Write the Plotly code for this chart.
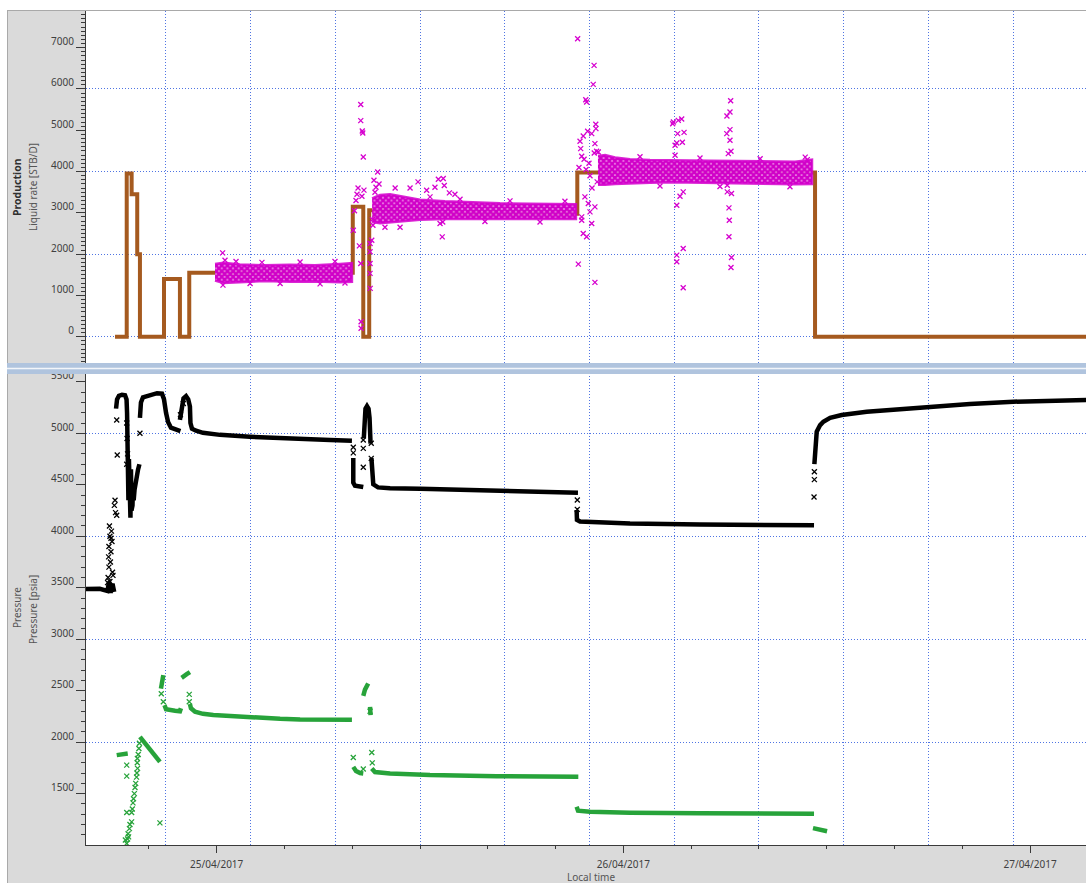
import pandas as pd
import plotly.graph_objects as go

BASE = pd.Timestamp("2017-04-25 00:00:00")  # hours below are relative to this instant

# ---------------- Production panel ----------------
# liquid rate history (step), hours / STB/D
rate_h = [-6.0, -5.31, -5.02, -4.69, -4.53, -3.11, -2.17, -1.62, 8.03, 8.65, 9.0, 12.78, 21.28, 35.31, 55.0]
rate_v = [0, 3950, 3450, 2000, 0, 1400, 0, 1550, 3150, 0, 3060, 2980, 3980, 0, 0]

# measured liquid rate: dense clouds (lower / upper envelopes)
band1_h = [-0.10, 0.40, 1.37, 2.85, 4.33, 5.80, 7.28, 7.98]
band1_lo = [1360, 1300, 1330, 1350, 1330, 1340, 1320, 1330]
band1_hi = [1760, 1790, 1750, 1730, 1740, 1730, 1760, 1780]
band2_h = [9.17, 9.64, 10.23, 11.11, 12.0, 13.47, 14.95, 16.72, 18.49, 20.26, 21.20]
band2_lo = [2780, 2750, 2770, 2800, 2830, 2850, 2860, 2860, 2860, 2850, 2850]
band2_hi = [3350, 3430, 3450, 3380, 3320, 3280, 3250, 3230, 3220, 3220, 3210]
band3_h = [22.50, 22.92, 23.51, 24.39, 25.57, 26.87, 27.93, 29.11, 30.88, 32.66, 34.13, 35.13]
band3_lo = [3680, 3680, 3700, 3720, 3730, 3740, 3740, 3720, 3710, 3700, 3690, 3700]
band3_hi = [4380, 4400, 4340, 4300, 4280, 4280, 4270, 4260, 4250, 4240, 4240, 4290]

# measured liquid rate: individual scattered readings
liq_a_h = [0.35, 0.37, 0.49, 1.14, 1.97, 2.67, 3.74, 4.92, 6.10, 6.98, 7.57]
liq_a_v = [2030, 1250, 1850, 1820, 1290, 1800, 1290, 1810, 1280, 1820, 1300]
liq_b_h = [8.06, 8.13, 8.22, 8.28, 8.34, 8.42, 8.50, 8.50, 8.50, 8.52, 8.52, 8.59, 8.62, 8.65, 8.57,
           8.69, 9.05, 9.05, 9.05, 9.05, 9.06, 9.15, 9.19, 9.22, 9.28, 9.34, 9.40, 9.50, 9.58]
liq_b_v = [2580, 3050, 3300, 3450, 3600, 2200, 5625, 5233, 1775, 363, 203, 4982, 4934, 4353, 3400,
           3550, 2258, 2056, 1775, 1533, 1170, 2338, 2840, 2700, 3790, 3500, 3620, 3990, 3700]
liq_c_h = [9.93, 10.53, 10.82, 11.41, 11.88, 12.39, 12.59, 12.88, 13.08, 13.18, 13.31, 13.34, 13.37,
           13.43, 13.73, 14.06, 14.36, 15.83, 17.31, 19.08, 20.55]
liq_c_v = [2650, 3600, 2650, 3600, 3750, 3548, 3386, 3620, 3813, 2742, 2418, 2780, 3830,
           3661, 3483, 3450, 3330, 2790, 3290, 2780, 3280]
liq_d_h = [21.30, 22.27, 22.22, 21.78, 21.83, 22.37, 22.38, 21.89, 22.13, 21.44, 21.63, 21.48, 22.32,
           22.42, 22.52, 22.28, 21.54, 21.73, 21.93, 22.03, 21.54, 21.63, 21.83, 21.34, 22.32, 22.13,
           21.54, 22.32, 21.38, 21.68, 21.97, 22.15, 22.45, 22.03, 21.80]
liq_d_v = [7217, 6571, 6111, 5741, 5683, 5144, 5040, 4975, 4919, 4733, 4861, 4556, 4677,
           4490, 4474, 4450, 4370, 3386, 3226, 3023, 2822, 2500, 2419, 1758, 1316, 2741,
           2903, 3144, 4100, 4300, 4200, 3600, 3750, 3900, 4050]
liq_e_h = [24.98, 26.16, 26.91, 26.95, 27.24, 27.44, 27.20, 27.58, 27.05, 27.15, 27.48, 27.05, 27.53,
           27.15, 27.53, 27.15, 27.15, 27.53, 27.34, 28.52, 29.70, 30.33, 30.29, 30.11, 30.29, 30.10,
           30.29, 30.35, 30.19, 30.13, 30.13, 30.38, 30.23, 30.25, 30.23, 30.38, 30.35, 32.07, 33.83,
           34.73, 34.85]
liq_e_v = [4360, 3650, 5160, 5200, 5240, 5272, 4918, 4950, 4636, 4692, 4708, 4394, 3507,
           3185, 2138, 1976, 1814, 1185, 3400, 4330, 3640, 5717, 5442, 5346, 5015, 4918,
           4757, 4490, 4435, 3668, 3507, 3468, 3120, 2822, 2419, 1920, 1678, 4310, 3630,
           4350, 4290]

# ---------------- Pressure panel ----------------
# pressure gauge 1 (black), continuous stretches separated by None
p1_line_h = [-8.1, -6.9, -6.45, -6.35, -6.25, -6.15, -6.05, None,
             -5.94, -5.88, -5.77, -5.59, -5.41, -5.32, -5.29, -5.26, -5.23, -5.21, -5.18, -5.15, -5.12,
             -5.09, -5.06, -5.03, -5.00, -4.97, -4.94, -4.90, -4.85, -4.76, -4.64, -4.56, None,
             -4.53, -4.47, -4.35, -3.94, -3.52, -3.23, -3.11, -2.99, -2.87, -2.70, -2.40, -2.14, None,
             -2.17, -2.07, -1.96, -1.81, -1.68, -1.58, -1.55, -1.46, -1.22, -0.81, 0.19, 1.96, 3.73,
             4.92, 6.69, 7.98, None,
             8.06, 8.06, 8.16, 8.46, 8.65, None,
             8.68, 8.72, 8.78, 8.87, 8.96, 9.02, 9.06, 9.08, None,
             9.13, 9.16, 9.24, 9.52, 10.23, 12.0, 14.53, 17.01, 19.49, 21.32, None,
             21.24, 21.26, 21.44, 22.03, 24.39, 28.52, 32.07, 35.25, None,
             35.27, 35.31, 35.41, 35.61, 35.80, 36.20, 36.88, 38.36, 40.32, 41.99, 44.45, 47.01,
             49.18, 51.83]
p1_line_v = [3488, 3490, 3470, 3560, 3450, 3540, 3460, None,
             5240, 5330, 5365, 5375, 5370, 5330, 5200, 5000, 4800, 4350, 4750, 4200, 4700,
             4180, 4650, 4250, 4600, 4300, 4500, 4350, 4450, 4560, 4650, 4700, None,
             5150, 5300, 5350, 5375, 5390, 5385, 5330, 5200, 5110, 5055, 5035, 5022, None,
             5130, 5260, 5340, 5362, 5330, 5260, 5100, 5045, 5025, 5005, 4985, 4967, 4951,
             4942, 4935, 4928, None,
             4760, 4520, 4492, 4482, 4478, None,
             4950, 5150, 5240, 5265, 5240, 5150, 4980, 4900, None,
             4760, 4600, 4505, 4475, 4466, 4462, 4450, 4442, 4432, 4423, None,
             4255, 4160, 4143, 4138, 4125, 4115, 4110, 4106, None,
             4700, 4850, 5016, 5080, 5113, 5150, 5178, 5210, 5235, 5259, 5285, 5307,
             5318, 5326]
p1_pts_h = [-6.41, -6.36, -6.27, -6.38, -6.24, -6.36, -6.18, -6.30, -6.21, -6.33, -6.15, -6.44, -6.12,
            -6.24, -6.30, -6.0, -6.04, -5.97, -5.90, -5.87, -5.90, -5.31, -5.29, -5.26, -5.31, -4.53,
            -2.14, -1.97, 8.06, 8.06, 8.65, 8.65, 8.65, 9.12, 9.12, 21.28, 21.28, 35.27, 35.25, 35.27]
p1_pts_v = [3600, 3700, 3750, 3800, 3850, 3900, 3950, 4000, 4050, 4100, 3650, 3550, 3620,
            3980, 3560, 4350, 4300, 4230, 4205, 4789, 5130, 5100, 4950, 4800, 4700, 5000,
            5180, 5290, 4864, 4810, 4935, 4854, 4670, 4903, 4757, 4352, 4261, 4627, 4382, 4550]

# pressure gauge 2 (green)
p2_line_h = [-5.90, -5.59, -5.25, None,
             -4.53, -4.23, -3.94, -3.64, -3.35, None,
             -3.29, -3.24, -3.20, -3.15, None,
             -3.08, -2.99, -2.46, -2.17, -2.11, None,
             -2.07, -1.93, -1.77, -1.58, None,
             -1.58, -1.52, -1.28, -0.81, -0.20, 1.77, 3.74, 4.92, 7.98, None,
             8.06, 8.22, 8.46, 8.65, None,
             8.65, 8.75, 8.94, None,
             9.05, 9.08, None,
             9.15, 9.34, 10.23, 12.59, 16.52, 21.34, None,
             21.24, 21.32, 22.03, 24.39, 28.52, 35.25, None,
             35.19, 35.61, 36.02]
p2_line_v = [1874, 1882, 1890, None,
             2052, 1990, 1920, 1860, 1809, None,
             2520, 2570, 2610, 2651, None,
             2360, 2320, 2305, 2300, 2330, None,
             2625, 2645, 2660, 2680, None,
             2370, 2330, 2295, 2275, 2263, 2240, 2227, 2221, 2218, None,
             1760, 1720, 1700, 1696, None,
             2450, 2510, 2570, None,
             2343, 2263, None,
             1745, 1710, 1696, 1680, 1670, 1663, None,
             1372, 1335, 1325, 1315, 1310, 1305, None,
             1165, 1150, 1135]
p2_pts_h = [-5.31, -5.26, -5.23, -5.15, -5.12, -5.31, -5.02, -5.02, -4.98, -4.94, -4.91, -4.86, -4.82,
            -4.78, -4.73, -5.31, -5.31, -4.71, -4.67, -4.69, -4.68, -4.63, -4.59, -4.56, -5.39, -5.20,
            -3.35, -3.15, -3.27, -1.62, -1.62, 8.06, 8.65, 9.15, 9.18, 9.05]
p2_pts_v = [1016, 1060, 1110, 1160, 1200, 1317, 1317, 1226, 1350, 1410, 1450, 1500, 1560,
            1600, 1660, 1777, 1670, 1700, 1745, 1800, 1842, 1880, 1939, 1990, 1050, 1080,
            1216, 2392, 2470, 2464, 2392, 1851, 1740, 1900, 1799, 2300]

# axis text
x_tick_format = "%d/%m/%Y"
x_title = "Local time"
top_title = ("Production", "Liquid rate [STB/D]")
bot_title = ("Pressure", "Pressure [psia]")

# ---------------- styling ----------------
BROWN = "#a55a1f"
MAGENTA = "#d600cf"
GREEN = "#27a33a"
TC = "#3a3a3a"
GRID = "#4f74e3"
GDASH = "1px,2px"
FONT = "Noto Sans"
W, H = 1086, 883
ML, MR, MT, MB = 86, 0, 11, 38
PW, PH = W - ML - MR, H - MT - MB


def to_time(hours):
    return [None if h is None else (BASE + pd.Timedelta(hours=h)).strftime("%Y-%m-%d %H:%M:%S")
            for h in hours]


def px_x(px):
    return (px - ML) / PW


def px_y(py):
    return (H - MB - py) / PH


x_range = to_time([-7.713, 51.30])

fig = go.Figure()

# rate history
fig.add_trace(go.Scatter(x=to_time(rate_h), y=rate_v, mode="lines",
                         line=dict(color=BROWN, width=4, shape="hv"),
                         xaxis="x", yaxis="y", hoverinfo="skip"))

# rate clouds as polygons with a cross-hatch texture
bx, by = [], []
for h, lo, hi in [(band1_h, band1_lo, band1_hi), (band2_h, band2_lo, band2_hi),
                  (band3_h, band3_lo, band3_hi)]:
    if bx:
        bx.append(None)
        by.append(None)
    bx += to_time(h) + to_time(h[::-1])
    by += list(hi) + list(lo[::-1])
fig.add_trace(go.Scatter(x=bx, y=by, mode="lines", fill="toself",
                         fillcolor="rgba(214,0,205,0.85)",
                         fillpattern=dict(shape="x", fgcolor="#d000c8", bgcolor="rgba(236,130,230,0.9)",
                                          size=4, solidity=0.8, fillmode="replace"),
                         line=dict(color="rgba(212,0,204,0.85)", width=2.5),
                         xaxis="x", yaxis="y", hoverinfo="skip"))

liq_h = liq_a_h + liq_b_h + liq_c_h + liq_d_h + liq_e_h
liq_v = liq_a_v + liq_b_v + liq_c_v + liq_d_v + liq_e_v
fig.add_trace(go.Scatter(x=to_time(liq_h), y=liq_v, mode="markers",
                         marker=dict(symbol="x-thin", size=5, line=dict(width=1.3, color=MAGENTA)),
                         xaxis="x", yaxis="y", hoverinfo="skip"))

# pressures
fig.add_trace(go.Scatter(x=to_time(p1_line_h), y=p1_line_v, mode="lines",
                         line=dict(color="black", width=4.5),
                         xaxis="x2", yaxis="y2", hoverinfo="skip"))
fig.add_trace(go.Scatter(x=to_time(p1_pts_h), y=p1_pts_v, mode="markers",
                         marker=dict(symbol="x-thin", size=5, line=dict(width=1.3, color="black")),
                         xaxis="x2", yaxis="y2", hoverinfo="skip"))
fig.add_trace(go.Scatter(x=to_time(p2_line_h), y=p2_line_v, mode="lines",
                         line=dict(color=GREEN, width=4.5),
                         xaxis="x2", yaxis="y2", hoverinfo="skip"))
fig.add_trace(go.Scatter(x=to_time(p2_pts_h), y=p2_pts_v, mode="markers",
                         marker=dict(symbol="x-thin", size=5, line=dict(width=1.3, color=GREEN)),
                         xaxis="x2", yaxis="y2", hoverinfo="skip"))

# empty traces so that the overlay axes exist
fig.add_trace(go.Scatter(x=[None], y=[None], xaxis="x", yaxis="y3", hoverinfo="skip"))
fig.add_trace(go.Scatter(x=[None], y=[None], xaxis="x2", yaxis="y4", hoverinfo="skip"))
fig.add_trace(go.Scatter(x=[None], y=[None], xaxis="x3", yaxis="y2", hoverinfo="skip"))

top_dom = [px_y(363), 1.0]
bot_dom = [0.0, px_y(373)]
top_range = [-637, 7889]
bot_range = [1001, 5586]

tickfont = dict(family=FONT, size=10, color="#404040")
common_y = dict(ticks="outside", ticklen=9, tickwidth=1, tickcolor=TC, showgrid=False,
                zeroline=False, showline=True, linecolor=TC, linewidth=1, tickfont=tickfont,
                ticklabelshift=-6, tickmode="linear", tick0=0)
grid_x = dict(type="date", range=x_range, showticklabels=False, ticks="", showgrid=True,
              gridcolor=GRID, griddash=GDASH, gridwidth=1, tick0="2017-04-24 21:00:00",
              dtick=5 * 3600 * 1000, zeroline=False)
grid_y = dict(showticklabels=False, ticks="", showgrid=True, gridcolor=GRID, griddash=GDASH,
              gridwidth=1, zeroline=False, showline=False, tickmode="linear", tick0=0)

fig.update_layout(
    width=W, height=H,
    margin=dict(l=ML, r=MR, t=MT, b=MB, pad=0),
    paper_bgcolor="#dadada", plot_bgcolor="white",
    showlegend=False,
    font=dict(family=FONT, size=10, color="#404040"),
    xaxis=dict(domain=[0, 1], anchor="y", showline=False, **grid_x),
    yaxis=dict(domain=top_dom, anchor="x", range=top_range, dtick=1000,
               minor=dict(ticks="outside", ticklen=4, tickcolor=TC, tick0=0, dtick=100, showgrid=False),
               **common_y),
    yaxis3=dict(overlaying="y", anchor="x", range=top_range, dtick=2000, **grid_y),
    xaxis2=dict(domain=[0, 1], anchor="y2", showline=True, linecolor=TC, linewidth=1, **grid_x),
    xaxis3=dict(overlaying="x2", anchor="y2", side="bottom", type="date", range=x_range,
                tick0="2017-04-25", dtick=86400000, tickformat=x_tick_format,
                ticks="outside", ticklen=7, tickcolor=TC, tickwidth=1, showgrid=False,
                showline=False, zeroline=False, tickfont=tickfont, ticklabelstandoff=3,
                minor=dict(ticks="outside", ticklen=3, tickcolor=TC, tick0="2017-04-25",
                           dtick=4 * 3600 * 1000, showgrid=False)),
    yaxis2=dict(domain=bot_dom, anchor="x2", range=bot_range, dtick=500,
                minor=dict(ticks="outside", ticklen=4, tickcolor=TC, tick0=0, dtick=100, showgrid=False),
                **common_y),
    yaxis4=dict(overlaying="y2", anchor="x2", range=bot_range, dtick=1000, **grid_y),
)

# frame: white outer strip, border lines, splitter bar
shapes = [
    dict(type="rect", xref="paper", yref="paper", x0=px_x(0), x1=px_x(7), y0=px_y(H), y1=px_y(0),
         fillcolor="white", line=dict(width=0), layer="above"),
    dict(type="rect", xref="paper", yref="paper", x0=px_x(0), x1=px_x(W), y0=px_y(10.5), y1=px_y(0),
         fillcolor="white", line=dict(width=0), layer="above"),
    dict(type="line", xref="paper", yref="paper", x0=px_x(7), x1=px_x(W), y0=px_y(10.5), y1=px_y(10.5),
         line=dict(color="#a9a9a9", width=1), layer="above"),
    dict(type="line", xref="paper", yref="paper", x0=px_x(7.5), x1=px_x(7.5), y0=px_y(H), y1=px_y(10.5),
         line=dict(color="#a9a9a9", width=1), layer="above"),
    dict(type="rect", xref="paper", yref="paper", x0=px_x(7), x1=px_x(W), y0=px_y(374), y1=px_y(363),
         fillcolor="#b0c4de", line=dict(width=0), layer="above"),
    dict(type="rect", xref="paper", yref="paper", x0=px_x(7), x1=px_x(W), y0=px_y(369.3), y1=px_y(367.8),
         fillcolor="#f2f5fa", line=dict(width=0), layer="above"),
]
fig.update_layout(shapes=shapes)

ann = [
    dict(text="<b>%s</b>" % top_title[0], x=px_x(17), y=px_y(187), textangle=-90,
         font=dict(family=FONT, size=10.5, color="#303030")),
    dict(text=top_title[1], x=px_x(33), y=px_y(187), textangle=-90,
         font=dict(family=FONT, size=10, color="#555555")),
    dict(text=bot_title[0], x=px_x(17), y=px_y(608), textangle=-90,
         font=dict(family=FONT, size=10, color="#555555")),
    dict(text=bot_title[1], x=px_x(33), y=px_y(610), textangle=-90,
         font=dict(family=FONT, size=10, color="#555555")),
    dict(text=x_title, x=px_x(591), y=px_y(876.5),
         font=dict(family=FONT, size=10, color="#555555")),
]
for a in ann:
    a.update(xref="paper", yref="paper", showarrow=False, xanchor="center", yanchor="middle")
fig.update_layout(annotations=ann)

fig.write_html("out.html", config={"displayModeBar": False},
               post_script="document.body.style.margin='0';document.body.style.overflow='hidden';")
